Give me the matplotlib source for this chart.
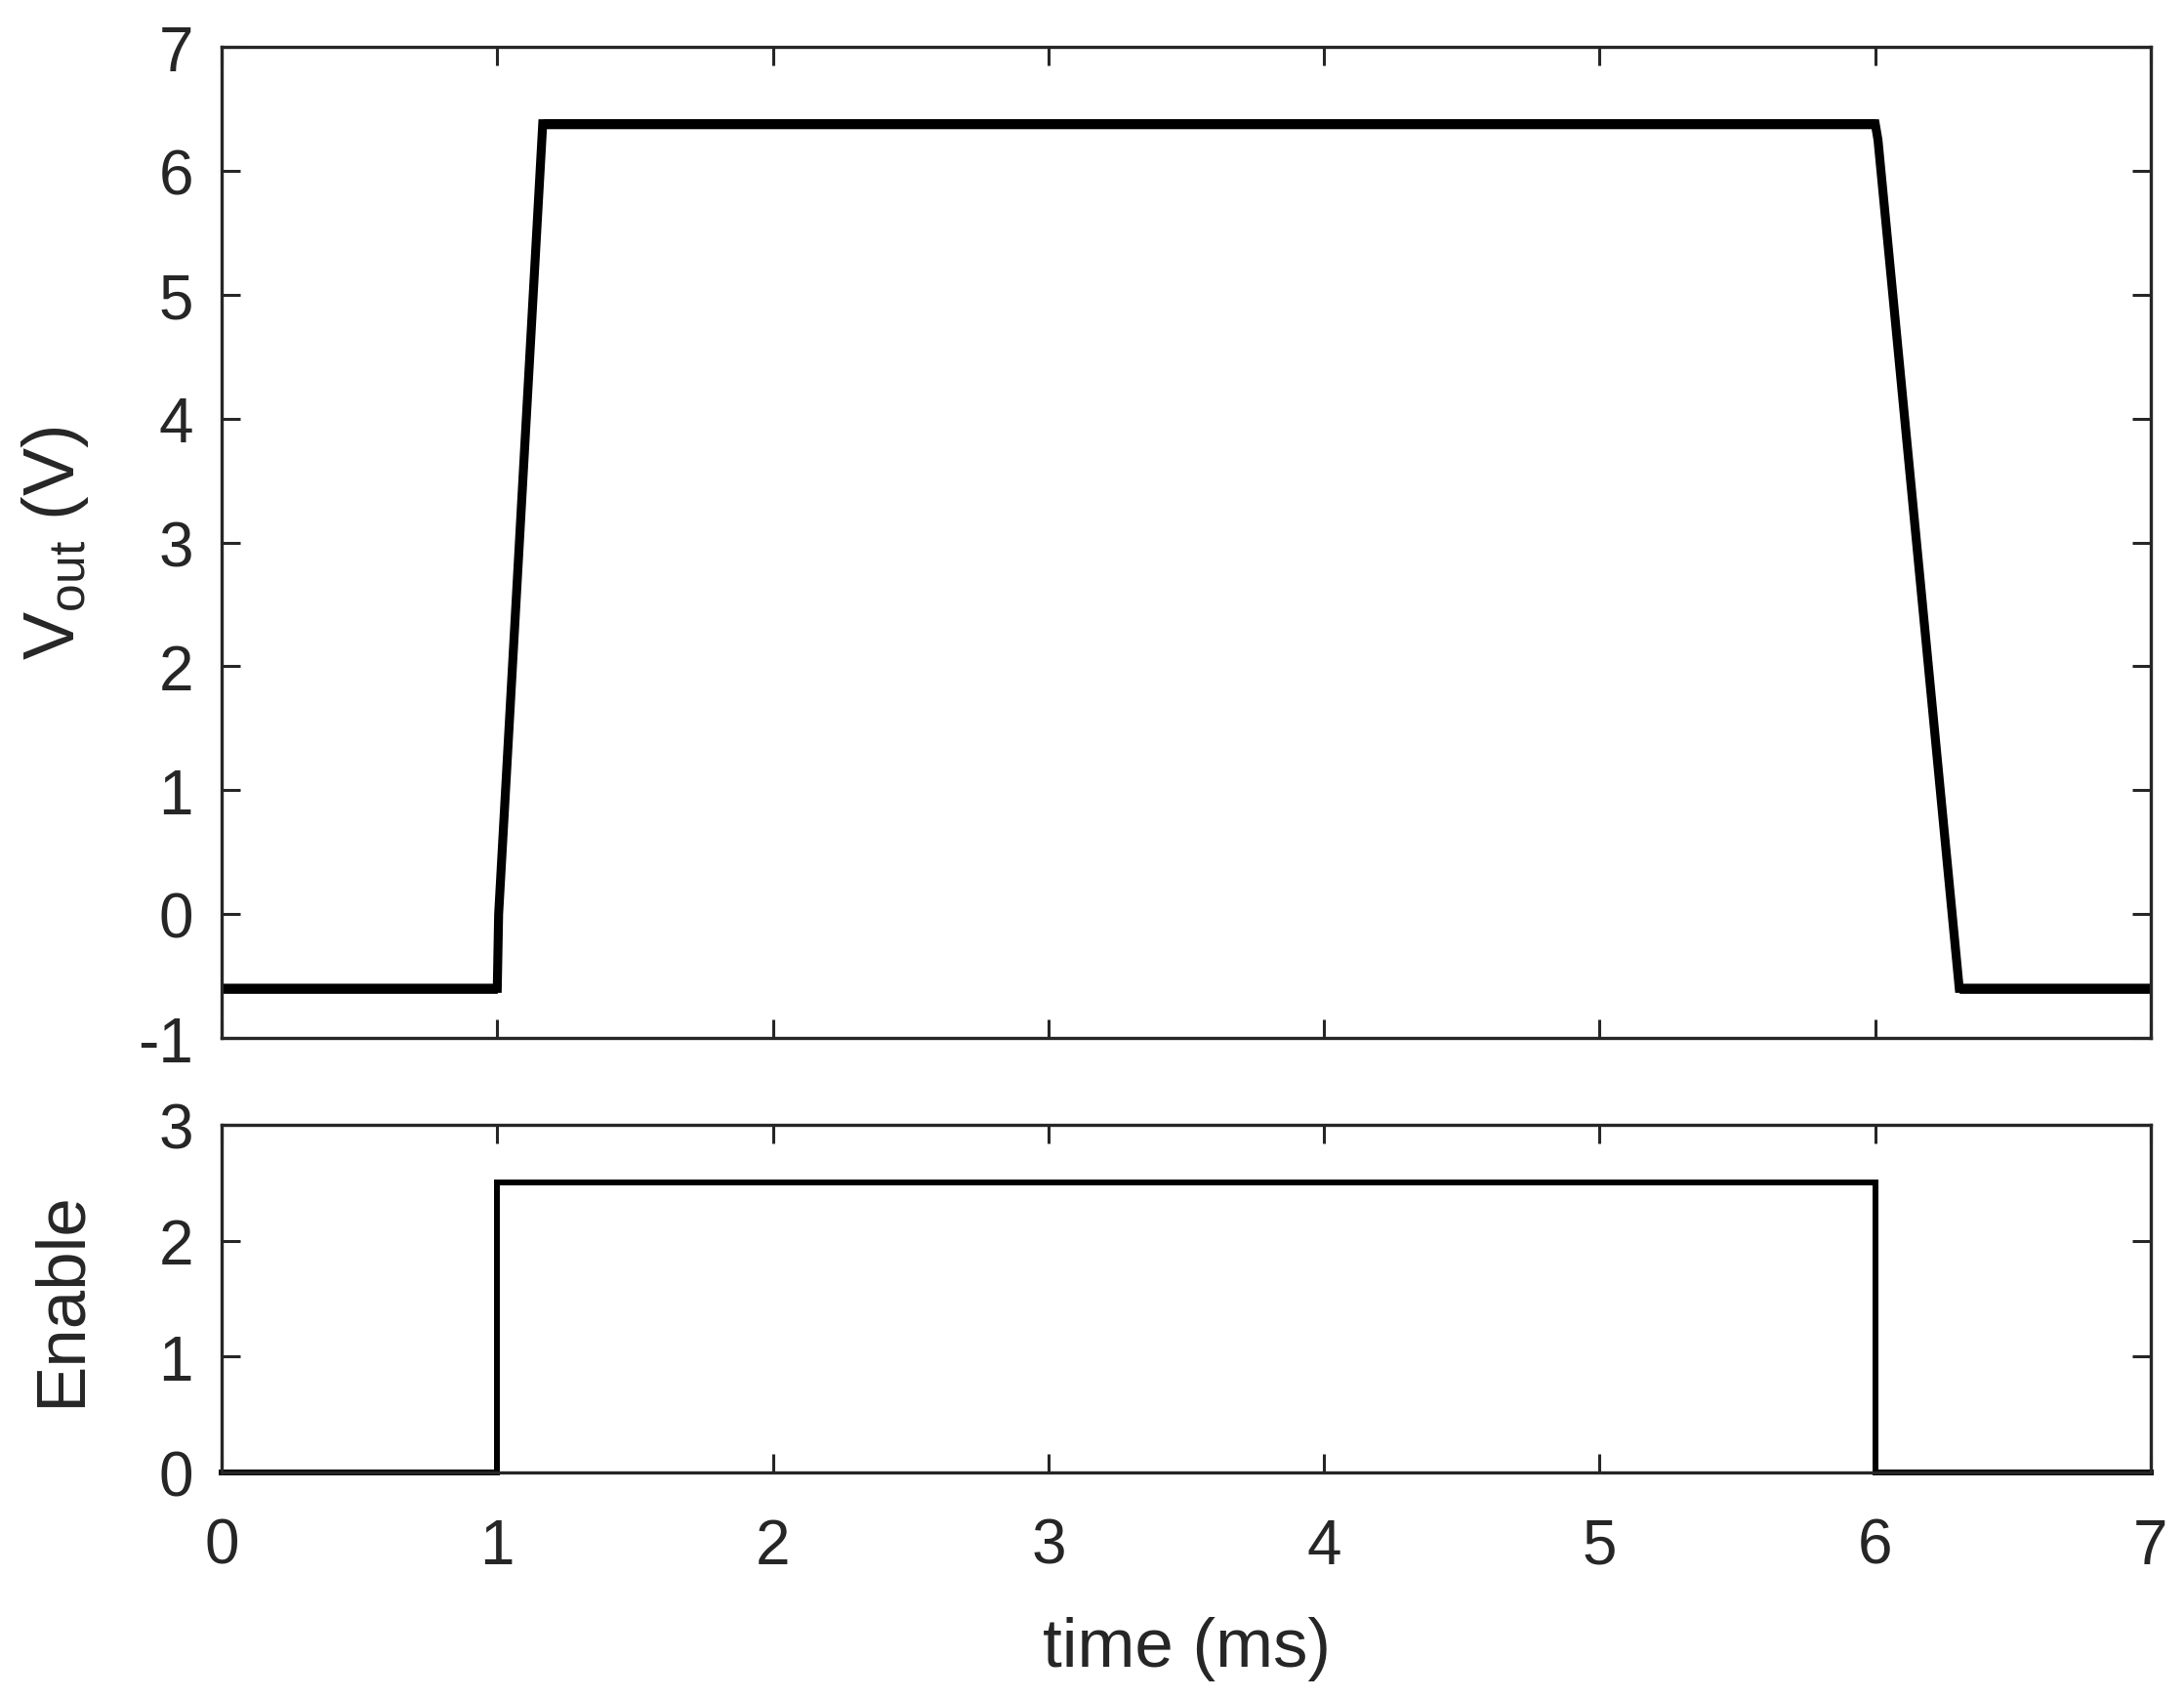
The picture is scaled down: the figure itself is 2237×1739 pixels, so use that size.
import numpy as np
import matplotlib
matplotlib.use('Agg')
import matplotlib.pyplot as plt

plt.rcParams['font.family'] = ['Liberation Sans', 'DejaVu Sans']
plt.rcParams['mathtext.fontset'] = 'custom'
plt.rcParams['mathtext.rm'] = 'Liberation Sans'
plt.rcParams['axes.unicode_minus'] = False

# output voltage trace (ms, V) - corner points
t_vout = [0.0, 1.0, 1.005, 1.165, 6.0, 6.01, 6.305, 7.0]
v_out = [-0.6, -0.6, 0.0, 6.38, 6.38, 6.25, -0.6, -0.6]
noise_half = 0.04   # approx half peak-to-peak of the trace noise (V)

# enable signal
t_en = [0.0, 1.0, 1.0, 6.0, 6.0, 7.0]
enable = [0.0, 0.0, 2.5, 2.5, 0.0, 0.0]

xticks = [0, 1, 2, 3, 4, 5, 6, 7]
yticks_top = [-1, 0, 1, 2, 3, 4, 5, 6, 7]
yticks_bot = [0, 1, 2, 3]

dark = '#262626'
fs_tick = 46
fs_label = 51

fig = plt.figure(figsize=(22.37, 17.40), dpi=100)
ax1 = fig.add_axes([0.1015, 0.3885, 0.8833, 0.5833])
ax2 = fig.add_axes([0.1015, 0.1328, 0.8833, 0.2046])

ax1.plot(t_vout, v_out, color='k', lw=6.6, solid_joinstyle='miter')
ax1.fill_between(t_vout, np.array(v_out) - noise_half, np.array(v_out) + noise_half,
                 color='k', lw=0)
ax2.plot(t_en, enable, color='k', lw=4.3, clip_on=False, solid_joinstyle='miter')

ax1.set_xlim(0, 7)
ax1.set_ylim(-1, 7)
ax2.set_xlim(0, 7)
ax2.set_ylim(0, 3)

for ax in (ax1, ax2):
    ax.set_xticks(xticks)
    for s in ax.spines.values():
        s.set_color(dark)
        s.set_linewidth(2.4)
    ax.tick_params(direction='in', length=14, width=2.2, color=dark,
                   labelcolor=dark, labelsize=fs_tick,
                   top=True, right=True, pad=21)
ax1.set_yticks(yticks_top)
ax2.set_yticks(yticks_bot)
ax1.set_xticklabels([])
ax2.tick_params(axis='x', pad=33)

ax1.set_ylabel(r'$\mathregular{V_{out}}$ (V)', fontsize=fs_label + 2, color=dark)
ax2.set_ylabel('Enable', fontsize=fs_label, color=dark)
ax2.set_xlabel('time (ms)', fontsize=fs_label, color=dark, labelpad=30)
ax1.yaxis.set_label_coords(-0.068, 0.5)
ax2.yaxis.set_label_coords(-0.066, 0.5)

fig.savefig('out.png', dpi=100)
